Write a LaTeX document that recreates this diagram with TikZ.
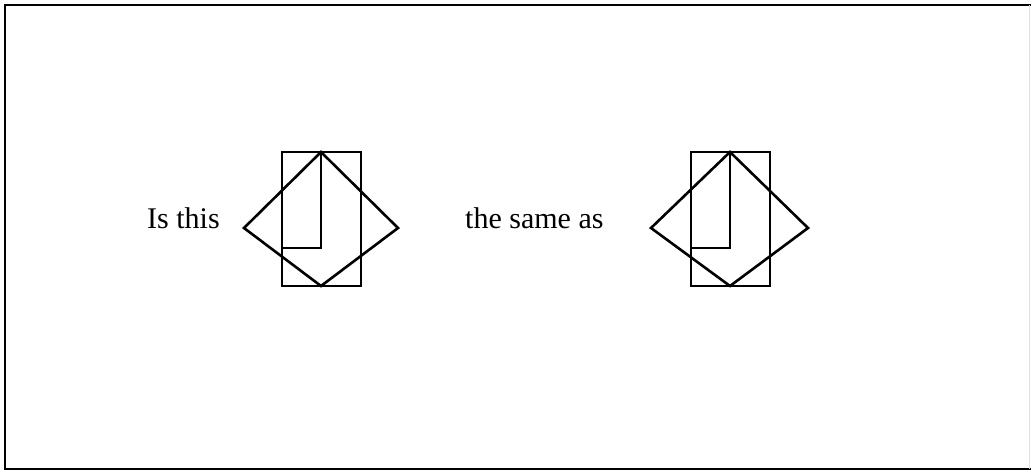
\documentclass[tikz,border=0pt]{standalone}
\usepackage{fontspec}
\setmainfont{Liberation Serif}
\begin{document}
\begin{tikzpicture}[x=1pt,y=-1pt,
  shape line/.style={line width=2.6pt,line join=miter},
  label text/.style={font=\fontsize{30}{36}\selectfont,inner sep=0pt,anchor=base west}]
\useasboundingbox (0,0) rectangle (1031,471);
\draw[line width=2pt] (1031,5) -- (5,5) -- (5,469) -- (1031,469);
\draw[line width=1pt,black!12] (1029.5,5) -- (1029.5,469);
\node[label text] (t1) at (147,228) {Is this};
\node[label text] (t2) at (465,228) {the same as};
% figure 1
\draw[shape line] (282,152) rectangle (361,286);
\draw[shape line] (244,228) -- (321,152) -- (398,228) -- (321,286) -- cycle;
\draw[shape line] (321,152) -- (321,248) -- (282,248);
% figure 2
\draw[shape line] (691,152) rectangle (770,286);
\draw[shape line] (651,228) -- (730,152) -- (808,228) -- (730,286) -- cycle;
\draw[shape line] (730,152) -- (730,248) -- (691,248);
\end{tikzpicture}
\end{document}
